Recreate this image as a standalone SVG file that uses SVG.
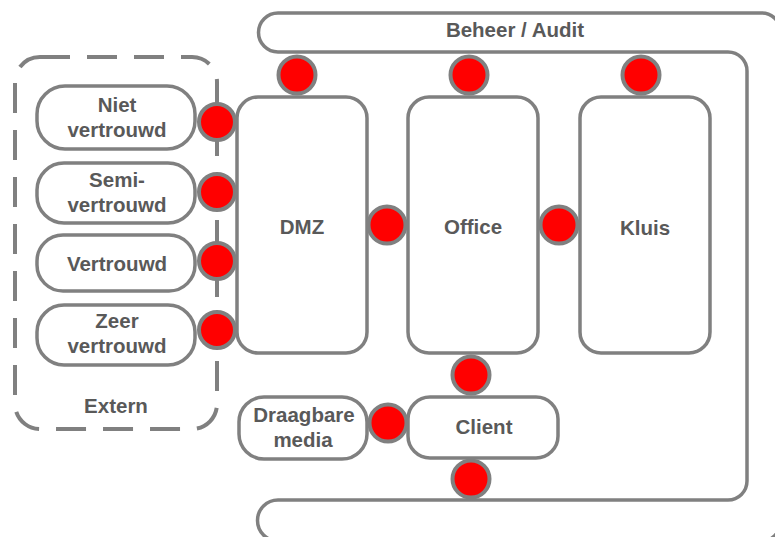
<svg xmlns="http://www.w3.org/2000/svg" width="775" height="537" viewBox="0 0 775 537">
<style>
.box{fill:#fff;stroke:#808080;stroke-width:3.5}
.dash{fill:none;stroke:#808080;stroke-width:4;stroke-dasharray:30 17}
.port{fill:#ff0000;stroke:#808080;stroke-width:4}
.t{font-family:"Liberation Sans",Arial,sans-serif;font-weight:bold;font-size:20.5px;fill:#595959;text-anchor:middle}
</style>
<rect width="775" height="537" fill="#fff"/>
<g id="beheer">
<path class="box" d="M 278 13 H 762 A 18 18 0 0 1 780 31 V 523 A 18 18 0 0 1 762 541 H 278 A 20.5 20.5 0 0 1 278 500 H 728 A 19 19 0 0 0 747 481 V 71 A 19 19 0 0 0 728 52 H 278 A 19.5 19.5 0 0 1 278 13 Z"/>
<text class="t" x="515" y="37">Beheer / Audit</text>
</g>
<g id="extern">
<rect class="dash" x="15" y="57" width="202" height="372" rx="25"/>
<text class="t" x="116" y="413">Extern</text>
</g>
<g id="niet">
<rect class="box" x="37" y="86" width="158" height="63" rx="28"/>
<text class="t" x="117" y="112">Niet</text>
<text class="t" x="117" y="137">vertrouwd</text>
</g>
<g id="semi">
<rect class="box" x="37" y="163" width="158" height="60" rx="27"/>
<text class="t" x="117" y="187">Semi-</text>
<text class="t" x="117" y="212">vertrouwd</text>
</g>
<g id="vertrouwd">
<rect class="box" x="37" y="235" width="158" height="56" rx="26"/>
<text class="t" x="117" y="271">Vertrouwd</text>
</g>
<g id="zeer">
<rect class="box" x="37" y="305" width="158" height="60" rx="27"/>
<text class="t" x="117" y="328">Zeer</text>
<text class="t" x="117" y="353">vertrouwd</text>
</g>
<g id="dmz">
<rect class="box" x="237" y="97" width="130" height="256" rx="21"/>
<text class="t" x="302" y="234">DMZ</text>
</g>
<g id="office">
<rect class="box" x="408" y="97" width="130" height="256" rx="21"/>
<text class="t" x="473" y="234">Office</text>
</g>
<g id="kluis">
<rect class="box" x="580" y="97" width="130" height="256" rx="21"/>
<text class="t" x="645" y="235">Kluis</text>
</g>
<g id="draagbare">
<rect class="box" x="239" y="397" width="128" height="62" rx="25"/>
<text class="t" x="304" y="422">Draagbare</text>
<text class="t" x="303" y="447">media</text>
</g>
<g id="client">
<rect class="box" x="408" y="397" width="150" height="61" rx="22"/>
<text class="t" x="484" y="434">Client</text>
</g>
<g id="connectors">
<circle class="port" cx="297" cy="75" r="18.5"/>
<circle class="port" cx="469" cy="75" r="18.5"/>
<circle class="port" cx="641" cy="75" r="18.5"/>
<circle class="port" cx="217" cy="122" r="18"/>
<circle class="port" cx="217" cy="192" r="18"/>
<circle class="port" cx="217" cy="261" r="18"/>
<circle class="port" cx="217" cy="330" r="18"/>
<circle class="port" cx="387" cy="225" r="18.5"/>
<circle class="port" cx="559" cy="225" r="18.5"/>
<circle class="port" cx="471" cy="375" r="18.5"/>
<circle class="port" cx="388" cy="423" r="18.5"/>
<circle class="port" cx="471" cy="479" r="18.5"/>
</g>
</svg>
